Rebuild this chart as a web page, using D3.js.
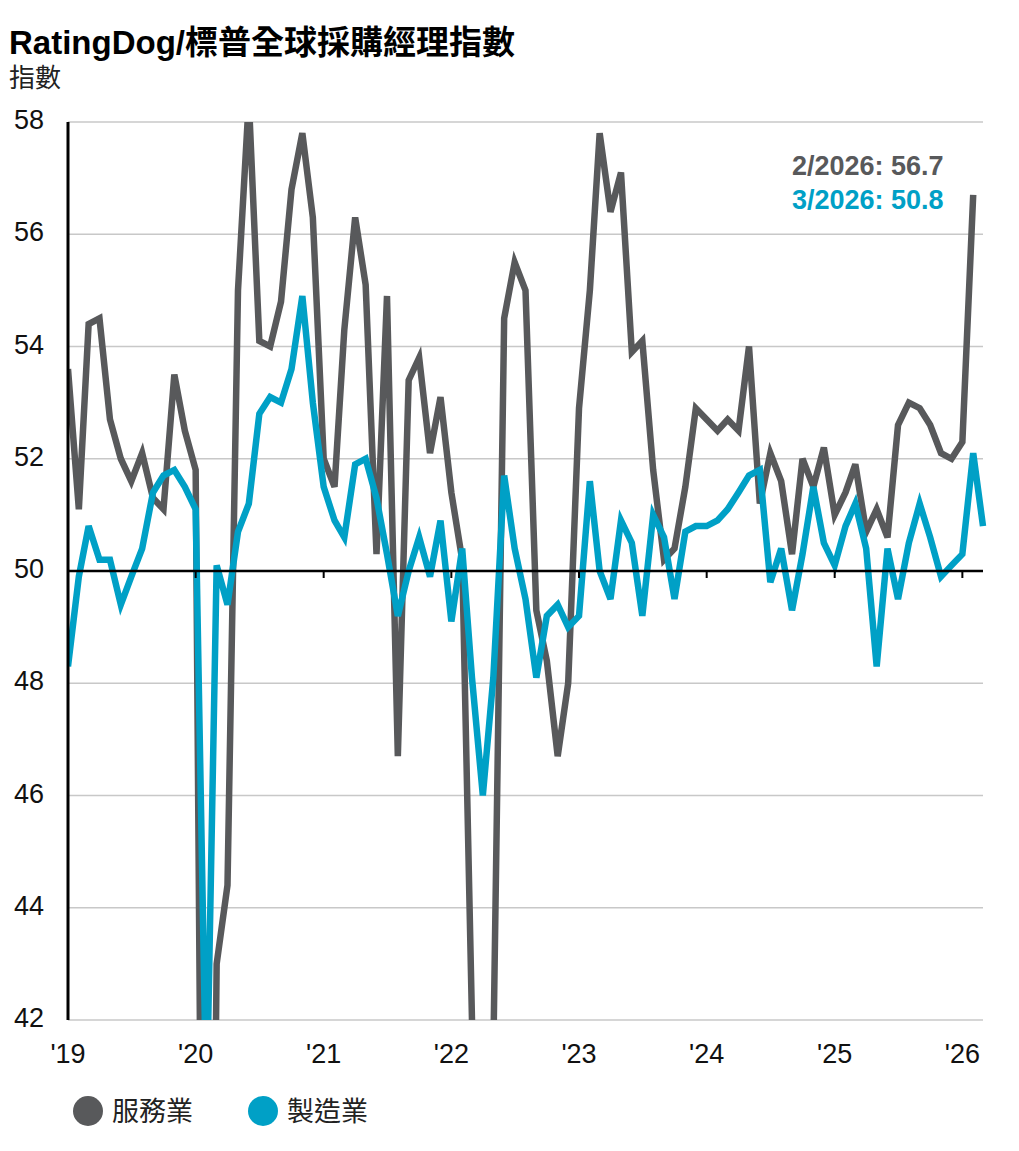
<!DOCTYPE html>
<html>
<head>
<meta charset="utf-8">
<script src="https://cdn.jsdelivr.net/npm/d3@7"></script>
<style>
  body { margin: 0; background: #fff; }
  svg text { font-family: "Liberation Sans", Arial, "Noto Sans CJK TC", sans-serif; }
</style>
</head>
<body>
<svg id="chart" width="1019" height="1151"></svg>
<script>
// monthly PMI readings, Jan 2019 onwards
const services = [
    53.6, 51.1, 54.4, 54.5, 52.7, 52.0, 51.6, 52.1, 51.3, 51.1, 53.5, 52.5, // 2019
    51.8, 26.5, 43.0, 44.4, 55.0, 58.4, 54.1, 54.0, 54.8, 56.8, 57.8, 56.3, // 2020
    52.0, 51.5, 54.3, 56.3, 55.1, 50.3, 54.9, 46.7, 53.4, 53.8, 52.1, 53.1, // 2021
    51.4, 50.2, 42.0, 36.2, 41.4, 54.5, 55.5, 55.0, 49.3, 48.4, 46.7, 48.0, // 2022
    52.9, 55.0, 57.8, 56.4, 57.1, 53.9, 54.1, 51.8, 50.2, 50.4, 51.5, 52.9, // 2023
    52.7, 52.5, 52.7, 52.5, 54.0, 51.2, 52.1, 51.6, 50.3, 52.0, 51.5, 52.2, // 2024
    51.0, 51.4, 51.9, 50.7, 51.1, 50.6, 52.6, 53.0, 52.9, 52.6, 52.1, 52.0, // 2025
    52.3, 56.7                                                              // 2026
];
const manufacturing = [
    48.3, 49.9, 50.8, 50.2, 50.2, 49.4, 49.9, 50.4, 51.4, 51.7, 51.8, 51.5,
    51.1, 40.3, 50.1, 49.4, 50.7, 51.2, 52.8, 53.1, 53.0, 53.6, 54.9, 53.0,
    51.5, 50.9, 50.6, 51.9, 52.0, 51.3, 50.3, 49.2, 50.0, 50.6, 49.9, 50.9,
    49.1, 50.4, 48.1, 46.0, 48.1, 51.7, 50.4, 49.5, 48.1, 49.2, 49.4, 49.0,
    49.2, 51.6, 50.0, 49.5, 50.9, 50.5, 49.2, 51.0, 50.6, 49.5, 50.7, 50.8,
    50.8, 50.9, 51.1, 51.4, 51.7, 51.8, 49.8, 50.4, 49.3, 50.3, 51.5, 50.5,
    50.1, 50.8, 51.2, 50.4, 48.3, 50.4, 49.5, 50.5, 51.2, 50.6, 49.9, 50.1,
    50.3, 52.1, 50.8
];
const yearTicks = [2019, 2020, 2021, 2022, 2023, 2024, 2025, 2026];
const yTicks = [42, 44, 46, 48, 50, 52, 54, 56, 58];
const seriesNames = ["服務業", "製造業"];
const latestLabels = ["2/2026: 56.7", "3/2026: 50.8"];

const GREY = "#58595b", TEAL = "#00a0c6";

const svg = d3.select("#chart");
const plotL = 68, plotR = 983, plotT = 122, plotB = 1020;

const monthDate = i => new Date(2019, i, 1);

const x = d3.scaleTime()
    .domain([new Date(2019, 0, 1), new Date(2026, 2, 1)])
    .range([plotL, plotR]);
const y = d3.scaleLinear()
    .domain([42, 58])
    .range([plotB, plotT]);

// title block
svg.append("text")
    .attr("x", 9).attr("y", 54)
    .attr("font-size", 33).attr("font-weight", "bold")
    .attr("fill", "#000")
    .text("RatingDog/標普全球採購經理指數");
svg.append("text")
    .attr("x", 9).attr("y", 87)
    .attr("font-size", 26).attr("fill", "#222")
    .text("指數");

// gridlines
svg.append("g").selectAll("line")
    .data(yTicks.filter(d => d !== 50))
    .join("line")
    .attr("x1", plotL).attr("x2", plotR)
    .attr("y1", d => y(d)).attr("y2", d => y(d))
    .attr("stroke", "#c8c8c8").attr("stroke-width", 1.5);

// y labels
svg.append("g").selectAll("text")
    .data(yTicks)
    .join("text")
    .attr("x", 44).attr("y", d => y(d) + 7)
    .attr("text-anchor", "end")
    .attr("font-size", 27).attr("fill", "#111")
    .text(d => d);

// clip lines to the plot area
svg.append("clipPath").attr("id", "plot-clip")
    .append("rect")
    .attr("x", plotL).attr("y", plotT)
    .attr("width", plotR - plotL + 10).attr("height", plotB - plotT);

const line = d3.line()
    .x((d, i) => x(monthDate(i)))
    .y(d => y(d));

const lines = svg.append("g").attr("clip-path", "url(#plot-clip)");
lines.append("path")
    .datum(services)
    .attr("d", line)
    .attr("fill", "none")
    .attr("stroke", GREY).attr("stroke-width", 6.5);
lines.append("path")
    .datum(manufacturing)
    .attr("d", line)
    .attr("fill", "none")
    .attr("stroke", TEAL).attr("stroke-width", 6.5);

// 50 line with year ticks
svg.append("line")
    .attr("x1", plotL).attr("x2", plotR)
    .attr("y1", y(50)).attr("y2", y(50))
    .attr("stroke", "#000").attr("stroke-width", 2.5);
svg.append("g").selectAll("line")
    .data(yearTicks.slice(1))
    .join("line")
    .attr("x1", d => x(new Date(d, 0, 1))).attr("x2", d => x(new Date(d, 0, 1)))
    .attr("y1", y(50)).attr("y2", y(50) + 7)
    .attr("stroke", "#000").attr("stroke-width", 2);

// left axis
svg.append("line")
    .attr("x1", plotL).attr("x2", plotL)
    .attr("y1", plotT).attr("y2", plotB)
    .attr("stroke", "#000").attr("stroke-width", 3);

// x labels
svg.append("g").selectAll("text")
    .data(yearTicks)
    .join("text")
    .attr("x", d => x(new Date(d, 0, 1)))
    .attr("y", 1063)
    .attr("text-anchor", "middle")
    .attr("font-size", 27).attr("fill", "#111")
    .text(d => "'" + String(d).slice(2));

// latest value labels
svg.append("g").selectAll("text")
    .data(latestLabels)
    .join("text")
    .attr("x", 792).attr("y", (d, i) => 175 + i * 34)
    .attr("font-size", 27).attr("font-weight", "bold")
    .attr("fill", (d, i) => i === 0 ? GREY : TEAL)
    .text(d => d);

// legend
const legend = svg.append("g").selectAll("g")
    .data(seriesNames)
    .join("g")
    .attr("transform", (d, i) => `translate(${88 + i * 175},1111)`);
legend.append("circle")
    .attr("r", 15)
    .attr("fill", (d, i) => i === 0 ? GREY : TEAL);
legend.append("text")
    .attr("x", 24).attr("y", 10)
    .attr("font-size", 27).attr("fill", "#222")
    .text(d => d);
</script>
</body>
</html>
